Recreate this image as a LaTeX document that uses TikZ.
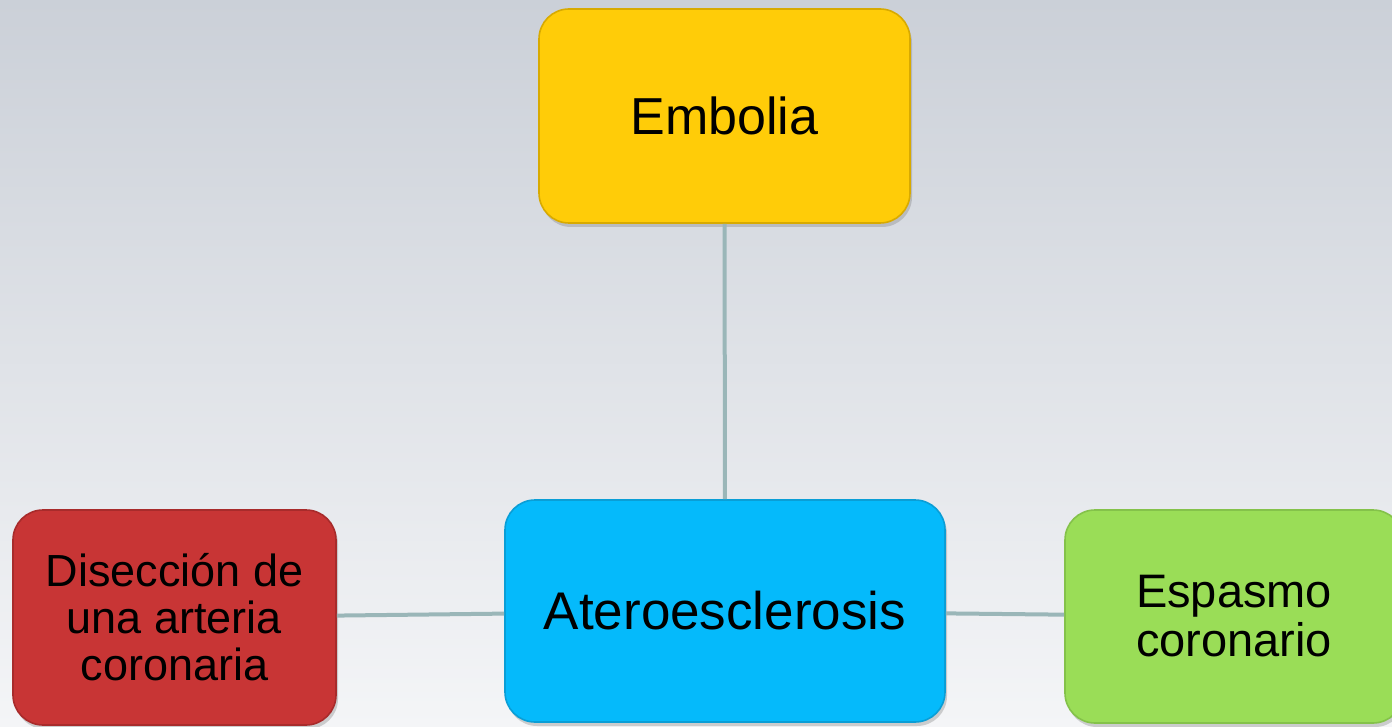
\documentclass[tikz,border=0pt]{standalone}
\usepackage{fontspec}
\setmainfont{Liberation Sans}
\usepackage{xcolor}
\usetikzlibrary{shadows}
\definecolor{bgtop}{HTML}{CBD0D8}
\definecolor{bgbottom}{HTML}{F4F5F7}
\definecolor{embfill}{HTML}{FFCC08}
\definecolor{embline}{HTML}{D8AA00}
\definecolor{atefill}{HTML}{05BAFB}
\definecolor{ateline}{HTML}{0A9ED6}
\definecolor{disfill}{HTML}{C83535}
\definecolor{disline}{HTML}{A82B2B}
\definecolor{espfill}{HTML}{9ADD57}
\definecolor{espline}{HTML}{84C24A}
\definecolor{linkgray}{HTML}{9AB6B8}

\begin{document}
\begin{tikzpicture}[x=0.5pt,y=-0.5pt,
    box/.style={rounded corners=15pt, line width=0.8pt, align=center, inner sep=0pt,
        drop shadow={opacity=0.35, shadow xshift=1pt, shadow yshift=-2pt}},
    link/.style={draw=linkgray, line width=2pt}]
    \useasboundingbox (0,0) rectangle (1392,727);
    \clip (0,0) rectangle (1392,727);
    \shade [top color=bgtop, bottom color=bgbottom] (0,0) rectangle (1392,727);
    \node [box, fill=embfill, draw=embline, minimum width=185.5pt, minimum height=107pt,
        font=\fontsize{26}{30}\selectfont] (emb) at (724.5,116) {Embolia};
    \node [box, fill=atefill, draw=ateline, minimum width=220pt, minimum height=111pt,
        font=\fontsize{26.5}{30}\selectfont] (ate) at (725,611) {Ateroesclerosis};
    \node [box, fill=disfill, draw=disline, minimum width=161.5pt, minimum height=107.5pt,
        font=\fontsize{22.5}{23.5}\selectfont] (dis) at (174.5,617.5) {Disección de\\una arteria\\coronaria};
    \node [box, fill=espfill, draw=espline, minimum width=169pt, minimum height=106.5pt,
        font=\fontsize{23.5}{24.5}\selectfont] (esp) at (1234,616.5) {Espasmo\\coronario};
    \draw [link] (emb)--(ate);
    \draw [link] (dis)--(ate);
    \draw [link] (ate)--(esp);
\end{tikzpicture}
\end{document}
